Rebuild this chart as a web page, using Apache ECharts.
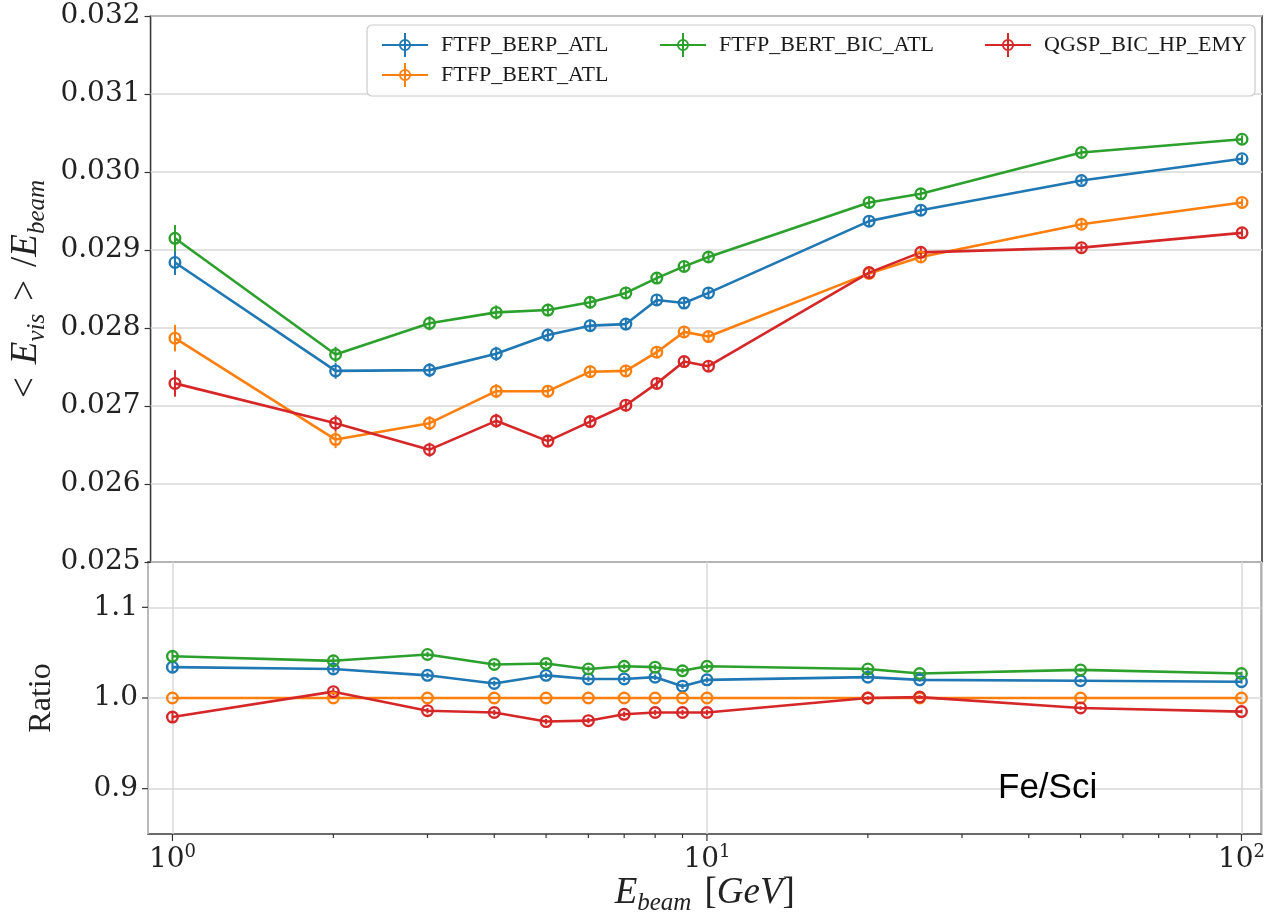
<!DOCTYPE html>
<html>
<head>
<meta charset="utf-8">
<title>Fe/Sci response</title>
<script src="https://cdn.jsdelivr.net/npm/echarts@6/dist/echarts.min.js"></script>
<style>
  html, body { margin: 0; padding: 0; background: #fff; }
  #chart { width: 1268px; height: 919px; }
</style>
</head>
<body>
<div id="chart"></div>
<script>
// Beam energies (GeV)
const energies = [1, 2, 3, 4, 5, 6, 7, 8, 9, 10, 20, 25, 50, 100];

// Physics lists
const listNames = ['FTFP_BERP_ATL', 'FTFP_BERT_ATL', 'FTFP_BERT_BIC_ATL', 'QGSP_BIC_HP_EMY'];
const listColors = ['#1f77b4', '#ff7f0e', '#2ca02c', '#d62728'];

// <E_vis>/E_beam for each physics list
const respBerp = [0.02884, 0.02745, 0.02746, 0.02767, 0.02791, 0.02803, 0.02805, 0.02836, 0.02832, 0.02845, 0.02937, 0.02951, 0.02989, 0.03017];
const respBert = [0.02787, 0.02657, 0.02678, 0.02719, 0.02719, 0.02744, 0.02745, 0.02769, 0.02795, 0.02789, 0.02870, 0.02891, 0.02933, 0.02961];
const respBic  = [0.02915, 0.02766, 0.02806, 0.02820, 0.02823, 0.02833, 0.02845, 0.02864, 0.02879, 0.02891, 0.02961, 0.02972, 0.03025, 0.03042];
const respQgsp = [0.02729, 0.02678, 0.02644, 0.02681, 0.02655, 0.02680, 0.02701, 0.02729, 0.02757, 0.02751, 0.02871, 0.02897, 0.02903, 0.02922];

// Statistical uncertainties on the response
const errBerp = [0.00016, 0.00010, 0.00009, 0.00009, 0.00008, 0.00008, 0.00008, 0.00007, 0.00007, 0.00007, 0.00006, 0.00006, 0.00005, 0.00005];
const errBert = [0.00017, 0.00011, 0.00009, 0.00009, 0.00008, 0.00008, 0.00008, 0.00007, 0.00007, 0.00007, 0.00006, 0.00006, 0.00005, 0.00005];
const errBic  = [0.00017, 0.00010, 0.00009, 0.00009, 0.00008, 0.00008, 0.00008, 0.00007, 0.00007, 0.00007, 0.00006, 0.00006, 0.00005, 0.00005];
const errQgsp = [0.00017, 0.00010, 0.00009, 0.00009, 0.00008, 0.00008, 0.00008, 0.00007, 0.00007, 0.00007, 0.00006, 0.00006, 0.00005, 0.00005];

// Ratio to FTFP_BERT_ATL
const ratioBerp = [1.034, 1.032, 1.025, 1.016, 1.025, 1.021, 1.021, 1.023, 1.013, 1.020, 1.023, 1.020, 1.019, 1.018];
const ratioBert = [1.000, 1.000, 1.000, 1.000, 1.000, 1.000, 1.000, 1.000, 1.000, 1.000, 1.000, 1.000, 1.000, 1.000];
const ratioBic  = [1.046, 1.041, 1.048, 1.037, 1.038, 1.032, 1.035, 1.034, 1.030, 1.035, 1.032, 1.027, 1.031, 1.027];
const ratioQgsp = [0.979, 1.007, 0.986, 0.984, 0.974, 0.975, 0.982, 0.984, 0.984, 0.984, 1.000, 1.001, 0.989, 0.985];

const ratioErrBerp = [0.006, 0.004, 0.003, 0.003, 0.003, 0.003, 0.003, 0.003, 0.003, 0.003, 0.002, 0.002, 0.002, 0.002];
const ratioErrBert = [0, 0, 0, 0, 0, 0, 0, 0, 0, 0, 0, 0, 0, 0];
const ratioErrBic  = [0.006, 0.004, 0.003, 0.003, 0.003, 0.003, 0.003, 0.003, 0.003, 0.003, 0.002, 0.002, 0.002, 0.002];
const ratioErrQgsp = [0.006, 0.004, 0.003, 0.003, 0.003, 0.003, 0.003, 0.003, 0.003, 0.003, 0.002, 0.002, 0.002, 0.002];

// Axis ranges and ticks
const xMin = 0.9, xMax = 109;
const respMin = 0.025, respMax = 0.032, respStep = 0.001;
const ratioMin = 0.85, ratioMax = 1.15, ratioStep = 0.05;
const ratioTicks = [0.9, 1.0, 1.1];
const decades = [1, 10, 100];

// Legend columns (names per column)
const legendColumns = [[listNames[0], listNames[1]], [listNames[2]], [listNames[3]]];

const respSets = [respBerp, respBert, respBic, respQgsp];
const errSets = [errBerp, errBert, errBic, errQgsp];
const ratioSets = [ratioBerp, ratioBert, ratioBic, ratioQgsp];
const ratioErrSets = [ratioErrBerp, ratioErrBert, ratioErrBic, ratioErrQgsp];

// Minor ticks of the log axis: 2..9 in each decade
const minorX = [];
for (let d = 0; d < decades.length - 1; d++) {
  for (let m = 2; m <= 9; m++) minorX.push(m * decades[d]);
}

const serif = 'Liberation Serif';
const tickFont = 'DejaVu Serif';

// Ring marker with the line visible through it
const ringPath = 'path://M12,6 A6,6 0 1,1 0,6 A6,6 0 1,1 12,6 Z M9.8,6 A3.8,3.8 0 1,0 2.2,6 A3.8,3.8 0 1,0 9.8,6 Z';
// Legend glyph: line, error bar and ring
const legendPath = 'path://M0,11 L46,11 L46,13 L0,13 Z M22,0 L24,0 L24,24 L22,24 Z ' +
  'M29,12 A6,6 0 1,1 17,12 A6,6 0 1,1 29,12 Z M27.2,12 A4.2,4.2 0 1,0 18.8,12 A4.2,4.2 0 1,0 27.2,12 Z';

function errorBars(color) {
  return function (params, api) {
    const x = api.value(0), y = api.value(1), e = api.value(2);
    const p1 = api.coord([x, y - e]);
    const p2 = api.coord([x, y + e]);
    return {
      type: 'line',
      shape: { x1: p1[0], y1: p1[1], x2: p2[0], y2: p2[1] },
      style: { stroke: color, lineWidth: 2 }
    };
  };
}

const series = [];
listNames.forEach((name, i) => {
  series.push({
    name: name, type: 'line', xAxisIndex: 0, yAxisIndex: 0,
    data: energies.map((e, k) => [e, respSets[i][k]]),
    symbol: ringPath, symbolSize: 13,
    itemStyle: { color: listColors[i] },
    lineStyle: { color: listColors[i], width: 2.6 },
    z: 3
  });
  series.push({
    name: name, type: 'line', xAxisIndex: 1, yAxisIndex: 1,
    data: energies.map((e, k) => [e, ratioSets[i][k]]),
    symbol: ringPath, symbolSize: 13,
    itemStyle: { color: listColors[i] },
    lineStyle: { color: listColors[i], width: 2.6 },
    z: 3
  });
});
listNames.forEach((name, i) => {
  series.push({
    name: name, type: 'custom', xAxisIndex: 0, yAxisIndex: 0,
    data: energies.map((e, k) => [e, respSets[i][k], errSets[i][k]]),
    encode: { x: 0, y: 1 },
    renderItem: errorBars(listColors[i]),
    silent: true, z: 2
  });
  series.push({
    name: name, type: 'custom', xAxisIndex: 1, yAxisIndex: 1,
    data: energies.map((e, k) => [e, ratioSets[i][k], ratioErrSets[i][k]]),
    encode: { x: 0, y: 1 },
    renderItem: errorBars(listColors[i]),
    silent: true, z: 2
  });
});

// Log-axis tick marks (major and minor) on the bottom panel
series.push({
  type: 'custom', xAxisIndex: 1, yAxisIndex: 1, silent: true, clip: false,
  data: decades.map(v => [v, ratioMin, 7]).concat(minorX.map(v => [v, ratioMin, 4])),
  encode: { x: 0, y: 1 },
  renderItem: function (params, api) {
    const p = api.coord([api.value(0), api.value(1)]);
    return {
      type: 'line',
      shape: { x1: p[0], y1: p[1], x2: p[0], y2: p[1] + api.value(2) },
      style: { stroke: '#333', lineWidth: 1.2 }
    };
  }
});
// Ratio axis tick marks
series.push({
  type: 'custom', xAxisIndex: 1, yAxisIndex: 1, silent: true, clip: false,
  data: ratioTicks.map(v => [xMin, v]),
  encode: { x: 0, y: 1 },
  renderItem: function (params, api) {
    const p = api.coord([api.value(0), api.value(1)]);
    return {
      type: 'line',
      shape: { x1: p[0] - 6, y1: p[1], x2: p[0], y2: p[1] },
      style: { stroke: '#333', lineWidth: 1.2 }
    };
  }
});

const gridLine = { show: true, lineStyle: { color: '#d9d9d9', width: 1.5 } };

// One legend per column, placed inside a shared frame
const legendLefts = [382, 660, 985];
const legends = legendColumns.map((names, c) => ({
  orient: 'vertical', left: legendLefts[c], top: 33, padding: 0,
  itemGap: 6, itemWidth: 46, itemHeight: 24,
  icon: legendPath,
  itemStyle: { borderWidth: 0 },
  textStyle: { fontFamily: serif, fontSize: 22, color: '#1a1a1a', padding: [0, 0, 0, 8] },
  data: names
}));

const mathRich = {
  e: { fontFamily: serif, fontStyle: 'italic', fontSize: 37, color: '#222', lineHeight: 46 },
  s: { fontFamily: serif, fontStyle: 'italic', fontSize: 25, color: '#222', lineHeight: 24, verticalAlign: 'bottom' },
  r: { fontFamily: serif, fontSize: 37, color: '#222', lineHeight: 46 },
  g: { fontSize: 10, width: 13, lineHeight: 46 }
};

const option = {
  animation: false,
  backgroundColor: '#ffffff',
  grid: [
    { left: 148, right: 6, top: 16, height: 546, show: true, borderColor: '#3a3a3a', borderWidth: 1.6, backgroundColor: 'transparent' },
    { left: 148, right: 6, top: 562, height: 272, show: true, borderColor: '#3a3a3a', borderWidth: 1.6, backgroundColor: 'transparent' }
  ],
  legend: legends,
  xAxis: [
    {
      type: 'log', logBase: 10, gridIndex: 0, min: xMin, max: xMax,
      axisLine: { show: false }, axisTick: { show: false }, axisLabel: { show: false },
      splitLine: { show: false }
    },
    {
      type: 'log', logBase: 10, gridIndex: 1, min: xMin, max: xMax,
      axisLine: { show: false }, axisTick: { show: false },
      splitLine: gridLine,
      axisLabel: {
        margin: 9, showMinLabel: false, showMaxLabel: false,
        formatter: function (v) {
          const p = Math.round(Math.log10(v));
          if (Math.abs(Math.pow(10, p) - v) > 1e-6 * v) return '';
          return '{b|10}{s|' + p + '}';
        },
        rich: {
          b: { fontFamily: tickFont, fontSize: 28, color: '#222', lineHeight: 34 },
          s: { fontFamily: tickFont, fontSize: 18, color: '#222', lineHeight: 18, verticalAlign: 'top' }
        }
      },
      name: '{e|E}{s|beam}{g| }{r|[}{e|GeV}{r|]}',
      nameLocation: 'middle', nameGap: 30,
      nameTextStyle: { rich: mathRich }
    }
  ],
  yAxis: [
    {
      type: 'value', gridIndex: 0, min: respMin, max: respMax, interval: respStep,
      axisLine: { show: false },
      axisTick: { show: true, length: 6, lineStyle: { color: '#333', width: 1.2 } },
      splitLine: gridLine,
      axisLabel: {
        margin: 10, fontFamily: tickFont, fontSize: 28, color: '#222',
        formatter: v => v.toFixed(3)
      },
      name: '{r|<}{g| }{e|E}{s|vis}{g| }{r|>}{g| }{r|/}{e|E}{s|beam}',
      nameLocation: 'middle', nameRotate: 90, nameGap: 86,
      nameTextStyle: { rich: mathRich }
    },
    {
      type: 'value', gridIndex: 1, min: ratioMin, max: ratioMax, interval: ratioStep,
      axisLine: { show: false }, axisTick: { show: false },
      splitLine: { show: true, lineStyle: { color: ['rgba(0,0,0,0)', '#d9d9d9'], width: 1.5 } },
      axisLabel: {
        margin: 10, fontFamily: tickFont, fontSize: 28, color: '#222',
        formatter: function (v) {
          const t = v * 10;
          return Math.abs(t - Math.round(t)) < 1e-6 ? v.toFixed(1) : '';
        }
      },
      name: 'Ratio',
      nameLocation: 'middle', nameRotate: 90, nameGap: 90,
      nameTextStyle: { fontFamily: serif, fontSize: 32, color: '#222' }
    }
  ],
  graphic: [
    {
      type: 'rect', z: 1,
      shape: { x: 367, y: 25, width: 888, height: 71, r: 5 },
      style: { fill: 'rgba(255,255,255,0.85)', stroke: '#cccccc', lineWidth: 1.2 }
    },
    {
      type: 'text', left: 998, top: 771, z: 5,
      style: { text: 'Fe/Sci', fontFamily: 'Liberation Sans', fontSize: 35, fill: '#000', stroke: null, lineWidth: 0 }
    }
  ],
  series: series
};

const chart = echarts.init(document.getElementById('chart'), null, { renderer: 'canvas' });
chart.setOption(option);
</script>
</body>
</html>
